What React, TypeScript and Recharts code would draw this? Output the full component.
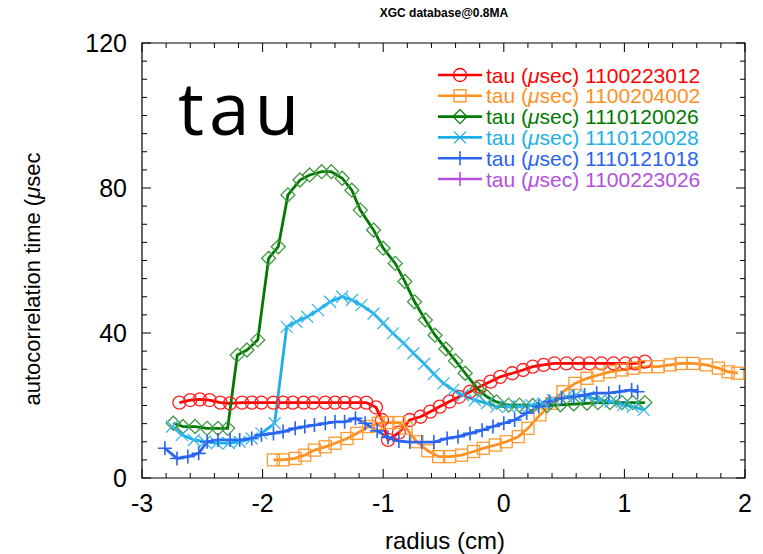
import { LineChart, Line, XAxis, YAxis, ReferenceArea } from "recharts";

// radius (cm), tau (usec)
const RED_PTS = [
  [-2.69, 20.8], [-2.6, 21.5], [-2.52, 21.7], [-2.44, 21.5], [-2.35, 20.8], [-2.27, 20.6],
  [-2.17, 20.8], [-2.09, 20.8], [-2.01, 20.8], [-1.91, 20.8], [-1.83, 20.8], [-1.75, 20.8],
  [-1.66, 20.8], [-1.58, 20.8], [-1.48, 20.8], [-1.4, 20.8], [-1.32, 20.8], [-1.23, 20.8],
  [-1.14, 20.8], [-1.06, 19.5], [-1.01, 16], [-0.96, 10.5], [-0.87, 12.5], [-0.78, 16],
  [-0.69, 16.9], [-0.61, 18.3], [-0.53, 19.7], [-0.45, 21.1], [-0.37, 22.4], [-0.28, 23.8],
  [-0.2, 25.2], [-0.11, 26.6], [-0.03, 27.9], [0.07, 28.9], [0.16, 29.8], [0.24, 30.7],
  [0.33, 31.2], [0.42, 31.6], [0.52, 31.6], [0.62, 31.6], [0.71, 31.6], [0.81, 31.6],
  [0.91, 31.6], [1.01, 31.6], [1.09, 31.6], [1.17, 32.1],
];

const ORANGE_PTS = [
  [-1.91, 5.0], [-1.83, 5.0], [-1.73, 5.4], [-1.65, 6.3], [-1.57, 7.7], [-1.48, 8.6],
  [-1.4, 9.6], [-1.3, 10.9], [-1.22, 12.3], [-1.12, 14.2], [-1.04, 15.1], [-0.96, 15.3],
  [-0.87, 15.3], [-0.81, 13.8], [-0.72, 10.0], [-0.63, 7.5], [-0.54, 5.9], [-0.45, 5.9],
  [-0.35, 6.3], [-0.25, 7.3], [-0.17, 8.2], [-0.07, 9.1], [0.02, 10.0], [0.12, 11.4],
  [0.2, 13.7], [0.3, 17.4], [0.4, 20.6], [0.49, 23.8], [0.59, 26.1], [0.69, 27.5],
  [0.78, 28.4], [0.88, 29.3], [0.98, 29.8], [1.07, 30.3], [1.18, 30.7], [1.28, 30.7],
  [1.38, 31.2], [1.47, 31.6], [1.57, 31.6], [1.68, 31.2], [1.78, 30.3], [1.86, 29.3],
  [1.94, 28.9],
];

const GREEN_PTS = [
  [-2.74, 15.1], [-2.66, 14.2], [-2.56, 14.2], [-2.46, 13.7], [-2.37, 13.7], [-2.29, 13.7],
  [-2.21, 33.9], [-2.13, 35.3], [-2.04, 38.1], [-1.95, 60.6], [-1.87, 63.8], [-1.79, 78.1],
  [-1.69, 82.2], [-1.61, 83.6], [-1.51, 84.5], [-1.43, 84.5], [-1.34, 82.7], [-1.26, 79.4],
  [-1.19, 73.9], [-1.08, 68.4], [-1.0, 63.4], [-0.9, 59.2], [-0.82, 54.2], [-0.74, 48.6],
  [-0.65, 43.6], [-0.57, 39.4], [-0.48, 35.6], [-0.4, 32.3], [-0.32, 28.9], [-0.22, 24.7],
  [-0.14, 22.4], [-0.06, 21.0], [0.04, 20.1], [0.13, 20.1], [0.24, 20.0], [0.36, 20.0],
  [0.47, 20.2], [0.58, 20.4], [0.69, 20.6], [0.78, 20.8], [0.88, 20.8], [0.98, 20.8],
  [1.07, 20.8], [1.17, 20.8],
];

const CYAN_PTS = [
  [-2.75, 14.2], [-2.67, 11.9], [-2.57, 10.5], [-2.48, 10.0], [-2.38, 9.6], [-2.28, 9.6],
  [-2.19, 10.0], [-2.09, 10.9], [-2.01, 12.3], [-1.9, 15.1], [-1.8, 41.7], [-1.72, 43.1],
  [-1.63, 44.5], [-1.54, 46.3], [-1.44, 48.6], [-1.34, 50.0], [-1.26, 49.1], [-1.18, 47.7],
  [-1.08, 45.4], [-1.0, 42.7], [-0.92, 39.9], [-0.83, 37.2], [-0.75, 34.4], [-0.66, 31.5],
  [-0.58, 28.7], [-0.5, 26.1], [-0.42, 24.3], [-0.34, 22.9], [-0.24, 21.5], [-0.14, 20.6],
  [-0.06, 19.7], [0.04, 19.7], [0.13, 19.7], [0.23, 20.1], [0.33, 20.6], [0.41, 21.5],
  [0.52, 22.4], [0.6, 22.9], [0.7, 22.4], [0.8, 21.5], [0.89, 21.1], [0.99, 20.1],
  [1.07, 19.7], [1.16, 18.8],
];

const BLUE_PTS = [
  [-2.81, 8.2], [-2.71, 5.4], [-2.62, 5.9], [-2.53, 6.8], [-2.46, 10.0], [-2.37, 10.5],
  [-2.27, 10.5], [-2.19, 10.5], [-2.09, 10.9], [-2.01, 11.9], [-1.91, 12.3], [-1.83, 12.8],
  [-1.73, 13.7], [-1.65, 14.2], [-1.57, 14.6], [-1.48, 15.1], [-1.4, 15.5], [-1.32, 15.5],
  [-1.23, 16.5], [-1.15, 15.1], [-1.05, 13.0], [-0.96, 11.2], [-0.87, 10.2], [-0.78, 9.9],
  [-0.68, 9.9], [-0.58, 9.9], [-0.47, 10.9], [-0.38, 11.4], [-0.28, 12.3], [-0.18, 13.2],
  [-0.09, 14.2], [0.0, 15.1], [0.09, 16.0], [0.19, 17.9], [0.29, 19.7], [0.38, 21.1],
  [0.48, 22.0], [0.58, 22.4], [0.67, 22.9], [0.77, 23.4], [0.87, 23.4], [0.96, 23.8],
  [1.06, 24.3], [1.11, 23.8],
];

const X_TICKS = [
  -3, -2.8, -2.6, -2.4, -2.2, -2, -1.8, -1.6, -1.4, -1.2, -1, -0.8, -0.6, -0.4, -0.2,
  0, 0.2, 0.4, 0.6, 0.8, 1, 1.2, 1.4, 1.6, 1.8, 2,
];
const X_LABELS = [-3, -2, -1, 0, 1, 2];
const Y_TICKS = [
  0, 5, 10, 15, 20, 25, 30, 35, 40, 45, 50, 55, 60, 65, 70, 75, 80, 85, 90, 95, 100, 105,
  110, 115, 120,
];
const Y_LABELS = [0, 40, 80, 120];

const SERIES = [
  { name: "1100223012", color: "#ff0000", mark: "#ff2020", shape: "circle", pts: RED_PTS },
  { name: "1100204002", color: "#ff8f1f", mark: "#ff9a33", shape: "square", pts: ORANGE_PTS },
  { name: "1110120026", color: "#007a00", mark: "#3f983f", shape: "diamond", pts: GREEN_PTS },
  { name: "1110120028", color: "#1eaee8", mark: "#3ab8ec", shape: "cross", pts: CYAN_PTS },
  { name: "1110121018", color: "#2a64f0", mark: "#2a64f0", shape: "plus", pts: BLUE_PTS },
  { name: "1100223026", color: "#b450e0", mark: "#b450e0", shape: "plus", pts: [] as number[][] },
];

const W = 763;
const H = 554;
const TOP = 43;
const BOTTOM = 478;
const LEFT = 142;
const RIGHT = 745;
const FONT = "'Liberation Sans', Arial, Helvetica, sans-serif";

function Marker({ shape, x, y, color }: any) {
  const s = 6;
  const common = { fill: "none", stroke: color, strokeWidth: 1.3 };
  if (shape === "circle") return <circle cx={x} cy={y} r={6.5} {...common} />;
  if (shape === "square")
    return <rect x={x - s} y={y - s} width={2 * s} height={2 * s} {...common} />;
  if (shape === "diamond")
    return (
      <polygon
        points={`${x},${y - 7} ${x + 7},${y} ${x},${y + 7} ${x - 7},${y}`}
        {...common}
      />
    );
  if (shape === "cross")
    return (
      <path d={`M${x - s},${y - s}L${x + s},${y + s}M${x - s},${y + s}L${x + s},${y - s}`} {...common} />
    );
  return <path d={`M${x - 7},${y}L${x + 7},${y}M${x},${y - 7}L${x},${y + 7}`} {...common} strokeWidth={1.6} />;
}

const isX = (v: number) => X_LABELS.some((l) => Math.abs(l - v) < 1e-6);

function XTick({ x, payload }: any) {
  const v = payload.value;
  const major = isX(v);
  const len = major ? 9 : 5;
  return (
    <g>
      <line x1={x} y1={BOTTOM} x2={x} y2={BOTTOM - len} stroke="#000" />
      <line x1={x} y1={TOP} x2={x} y2={TOP + len} stroke="#000" />
      {major && (
        <text x={x} y={512} textAnchor="middle" fontSize={25} fontFamily={FONT} fill="#000">
          {v}
        </text>
      )}
    </g>
  );
}

function YTick({ y, payload }: any) {
  const v = payload.value;
  const major = Y_LABELS.includes(v);
  const len = major ? 9 : 5;
  return (
    <g>
      <line x1={LEFT} y1={y} x2={LEFT + len} y2={y} stroke="#000" />
      <line x1={RIGHT} y1={y} x2={RIGHT - len} y2={y} stroke="#000" />
      {major && (
        <text x={127} y={y + 9} textAnchor="end" fontSize={25} fontFamily={FONT} fill="#000">
          {v}
        </text>
      )}
    </g>
  );
}

export default function App() {
  return (
    <div style={{ position: "absolute", left: 0, top: 0, width: W, height: H, background: "#fff" }}>
      <LineChart width={W} height={H} margin={{ top: TOP, right: W - RIGHT, bottom: 0, left: 0 }}>
        <XAxis
          type="number"
          dataKey="x"
          domain={[-3, 2]}
          ticks={X_TICKS}
          interval={0}
          allowDataOverflow
          height={H - BOTTOM}
          axisLine={false}
          tickLine={false}
          tick={<XTick />}
        />
        <YAxis
          type="number"
          dataKey="y"
          domain={[0, 120]}
          ticks={Y_TICKS}
          interval={0}
          allowDataOverflow
          width={LEFT}
          axisLine={false}
          tickLine={false}
          tick={<YTick />}
        />
        <ReferenceArea x1={-3} x2={2} y1={0} y2={120} fill="none" stroke="#000" strokeWidth={1.2} ifOverflow="visible" />
        {SERIES.filter((s) => s.pts.length).map((s) => (
          <Line
            key={s.name}
            data={s.pts.map(([x, y]) => ({ x, y }))}
            dataKey="y"
            type="linear"
            stroke={s.color}
            strokeWidth={2.8}
            isAnimationActive={false}
            dot={(p: any) => (
              <Marker key={`${s.name}-${p.index}`} shape={s.shape} x={p.cx} y={p.cy} color={s.mark} />
            )}
            activeDot={false}
          />
        ))}
      </LineChart>
      <svg
        width={W}
        height={H}
        style={{ position: "absolute", left: 0, top: 0, pointerEvents: "none" }}
      >
        <text x={444} y={17} textAnchor="middle" fontSize={12} fontWeight="bold" fontFamily={FONT}>
          XGC database@0.8MA
        </text>
        <text x={178} y={135} fontSize={73} letterSpacing={5} fontFamily="'Open Sans', sans-serif" fill="#000">
          tau
        </text>
        <text x={445} y={549} textAnchor="middle" fontSize={24} fontFamily={FONT}>
          radius (cm)
        </text>
        <text
          transform="translate(40,279) rotate(-90)"
          textAnchor="middle"
          fontSize={22}
          fontFamily={FONT}
        >
          autocorrelation time (<tspan fontStyle="italic">μ</tspan>sec
        </text>
        {SERIES.map((s, i) => {
          const y = 75 + i * 20.8;
          return (
            <g key={s.name}>
              <line x1={438} y1={y} x2={482} y2={y} stroke={s.color} strokeWidth={2.6} />
              <Marker shape={s.shape} x={460} y={y} color={s.color} />
              <text x={486} y={y + 7.5} fontSize={21} fontFamily={FONT} fill={s.color}>
                tau (<tspan fontStyle="italic">μ</tspan>sec) {s.name}
              </text>
            </g>
          );
        })}
      </svg>
    </div>
  );
}
